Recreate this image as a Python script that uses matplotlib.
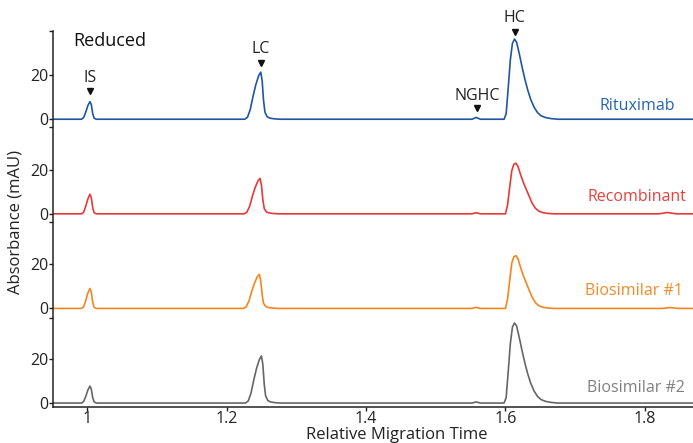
import matplotlib
matplotlib.use("Agg")
from matplotlib import pyplot as plt
from matplotlib.ticker import FixedLocator

plt.rcParams["font.family"] = ["Open Sans", "DejaVu Sans"]

# traces, top to bottom; x = relative migration time, y = absorbance (mAU)
names = ["Rituximab", "Recombinant", "Biosimilar #1", "Biosimilar #2"]
line_colors = ["#1f56a3", "#e63a37", "#f5861f", "#666666"]
text_colors = ["#2566b0", "#e8403d", "#f58a25", "#808080"]

rituximab_x = [0.951,
               0.992, 0.995, 0.998, 1.001, 1.004, 1.006, 1.008, 1.010, 1.013,
               1.226, 1.230, 1.234, 1.238, 1.242, 1.246, 1.249, 1.251, 1.253, 1.255, 1.258, 1.262, 1.268, 1.276,
               1.552, 1.558, 1.564,
               1.598, 1.601, 1.604, 1.607, 1.610, 1.613, 1.616, 1.620, 1.624, 1.628, 1.632, 1.636, 1.641, 1.646,
               1.651, 1.657, 1.665, 1.675,
               1.869]
rituximab_y = [0,
               0, 0.8, 3.2, 6.2, 8.0, 6.6, 2.5, 0.5, 0,
               0, 0.9, 4.5, 10.5, 15.8, 19.8, 21.4, 17.5, 8.5, 3.2, 1.2, 0.5, 0.2, 0,
               0, 0.8, 0,
               0, 2.5, 14.5, 27, 34.5, 36.4, 35, 29.5, 23.5, 18, 13.2, 9.2, 5.5, 3,
               1.6, 0.8, 0.3, 0,
               0]

recombinant_x = [0.951,
                 0.992, 0.995, 0.998, 1.001, 1.004, 1.006, 1.008, 1.010, 1.013,
                 1.225, 1.229, 1.233, 1.237, 1.241, 1.245, 1.248, 1.250, 1.252, 1.254, 1.257, 1.261, 1.267, 1.275,
                 1.552, 1.558, 1.564,
                 1.600, 1.603, 1.606, 1.609, 1.612, 1.615, 1.618, 1.622, 1.626, 1.630, 1.634, 1.638, 1.643, 1.648,
                 1.653, 1.660, 1.670,
                 1.820, 1.832, 1.845,
                 1.869]
recombinant_y = [0,
                 0, 0.8, 3.5, 6.8, 8.9, 7.2, 2.8, 0.5, 0,
                 0, 0.7, 3.4, 8, 12, 15, 16.1, 13, 6.4, 2.4, 0.9, 0.4, 0.15, 0,
                 0, 0.5, 0,
                 0, 4, 12, 19.5, 22.5, 23, 21.5, 17.5, 14, 11, 8, 5, 2.5, 1.2,
                 0.6, 0.2, 0,
                 0, 0.6, 0,
                 0]

biosim1_x = [0.951,
             0.992, 0.995, 0.998, 1.001, 1.004, 1.006, 1.008, 1.010, 1.013,
             1.224, 1.228, 1.232, 1.236, 1.240, 1.244, 1.247, 1.249, 1.251, 1.253, 1.256, 1.260, 1.266, 1.274,
             1.552, 1.558, 1.564,
             1.600, 1.603, 1.606, 1.609, 1.612, 1.615, 1.618, 1.622, 1.626, 1.630, 1.634, 1.638, 1.643, 1.648,
             1.653, 1.660, 1.670,
             1.825, 1.836, 1.848,
             1.869]
biosim1_y = [0,
             0, 0.8, 3.6, 7.0, 9.1, 7.4, 2.8, 0.5, 0,
             0, 0.7, 3.3, 7.7, 11.5, 14.4, 15.5, 12.5, 6.2, 2.3, 0.9, 0.4, 0.15, 0,
             0, 0.5, 0,
             0, 4.2, 12.5, 20.5, 23.5, 24, 22.5, 18.3, 14.6, 11.4, 8.3, 5.2, 2.6, 1.2,
             0.6, 0.2, 0,
             0, 0.4, 0,
             0]

biosim2_x = [0.951,
             0.992, 0.995, 0.998, 1.001, 1.004, 1.006, 1.008, 1.010, 1.013,
             1.227, 1.231, 1.235, 1.239, 1.243, 1.247, 1.250, 1.252, 1.254, 1.256, 1.259, 1.263, 1.269, 1.277,
             1.552, 1.558, 1.564,
             1.598, 1.601, 1.604, 1.607, 1.610, 1.613, 1.616, 1.620, 1.624, 1.628, 1.632, 1.636, 1.641, 1.646,
             1.651, 1.657, 1.665, 1.675,
             1.869]
biosim2_y = [0,
             0, 0.7, 3.0, 5.9, 7.7, 6.3, 2.4, 0.5, 0,
             0, 0.9, 4.5, 10.5, 15.8, 19.8, 21.4, 17.5, 8.5, 3.2, 1.2, 0.5, 0.2, 0,
             0, 0.5, 0,
             0, 2.5, 14.5, 27, 34.5, 36.4, 35, 29.5, 23.5, 18, 13.2, 9.2, 5.5, 3,
             1.6, 0.8, 0.3, 0,
             0]

traces_x = [rituximab_x, recombinant_x, biosim1_x, biosim2_x]
traces_y = [rituximab_y, recombinant_y, biosim1_y, biosim2_y]
offsets = [129, 86, 43, 0]

# peak markers on the top trace: label, x, arrow y, text y
peak_labels = ["IS", "LC", "NGHC", "HC"]
peak_x = [1.004, 1.249, 1.559, 1.613]
peak_arrow_y = [141.8, 154.5, 134.0, 168.6]
peak_text_y = [147.8, 161.0, 139.5, 174.8]

fig = plt.figure(figsize=(6.93, 4.43), dpi=100)
ax = fig.add_axes([53 / 693, 36 / 443, 640 / 693, 376 / 443])

for x, y, off, c in zip(traces_x, traces_y, offsets, line_colors):
    ax.plot(x, [v + off for v in y], color=c, lw=1.2, solid_joinstyle="round")

label_pos = [(1.843, 135.0), (1.860, 93.6), (1.854, 51.0), (1.857, 6.8)]
for name, (lx, ly), c in zip(names, label_pos, text_colors):
    ax.text(lx, ly, name, color=c, fontsize=11.5, ha="right", va="center")

for lab, px, ay, ty in zip(peak_labels, peak_x, peak_arrow_y, peak_text_y):
    ax.plot(px, ay, marker="v", color="#111111", markersize=5, clip_on=False)
    ax.text(px, ty, lab, fontsize=11.5, ha="center", va="center", color="#222222")

ax.text(0.980, 164.5, "Reduced", fontsize=13, ha="left", va="center", color="#111111")

ax.set_xlim(0.951, 1.869)
ax.set_ylim(-1.8, 169.1)

ax.set_xticks([1.0, 1.2, 1.4, 1.6, 1.8])
ax.set_xticklabels(["1", "1.2", "1.4", "1.6", "1.8"])
major = []
for off in offsets:
    major += [off, off + 20]
ax.set_yticks(major)
ax.set_yticklabels(["0", "20"] * 4)
ax.yaxis.set_minor_locator(FixedLocator([38.6, 82.3, 125.5, 169.1]))

for s in ["top", "right"]:
    ax.spines[s].set_visible(False)
for s in ["left", "bottom"]:
    ax.spines[s].set_linewidth(1.1)
    ax.spines[s].set_color("#222222")
ax.tick_params(axis="both", which="both", direction="out", length=3, width=1,
               color="#222222", labelsize=11.5, labelcolor="#222222", pad=0)

fig.text(16 / 693, 1 - 222 / 443, "Absorbance (mAU)", rotation=90, ha="center", va="center",
         fontsize=12, color="#222222")
fig.text(397 / 693, 1 - 435 / 443, "Relative Migration Time", ha="center", va="center",
         fontsize=12, color="#222222")

fig.savefig("out.png", dpi=100)
